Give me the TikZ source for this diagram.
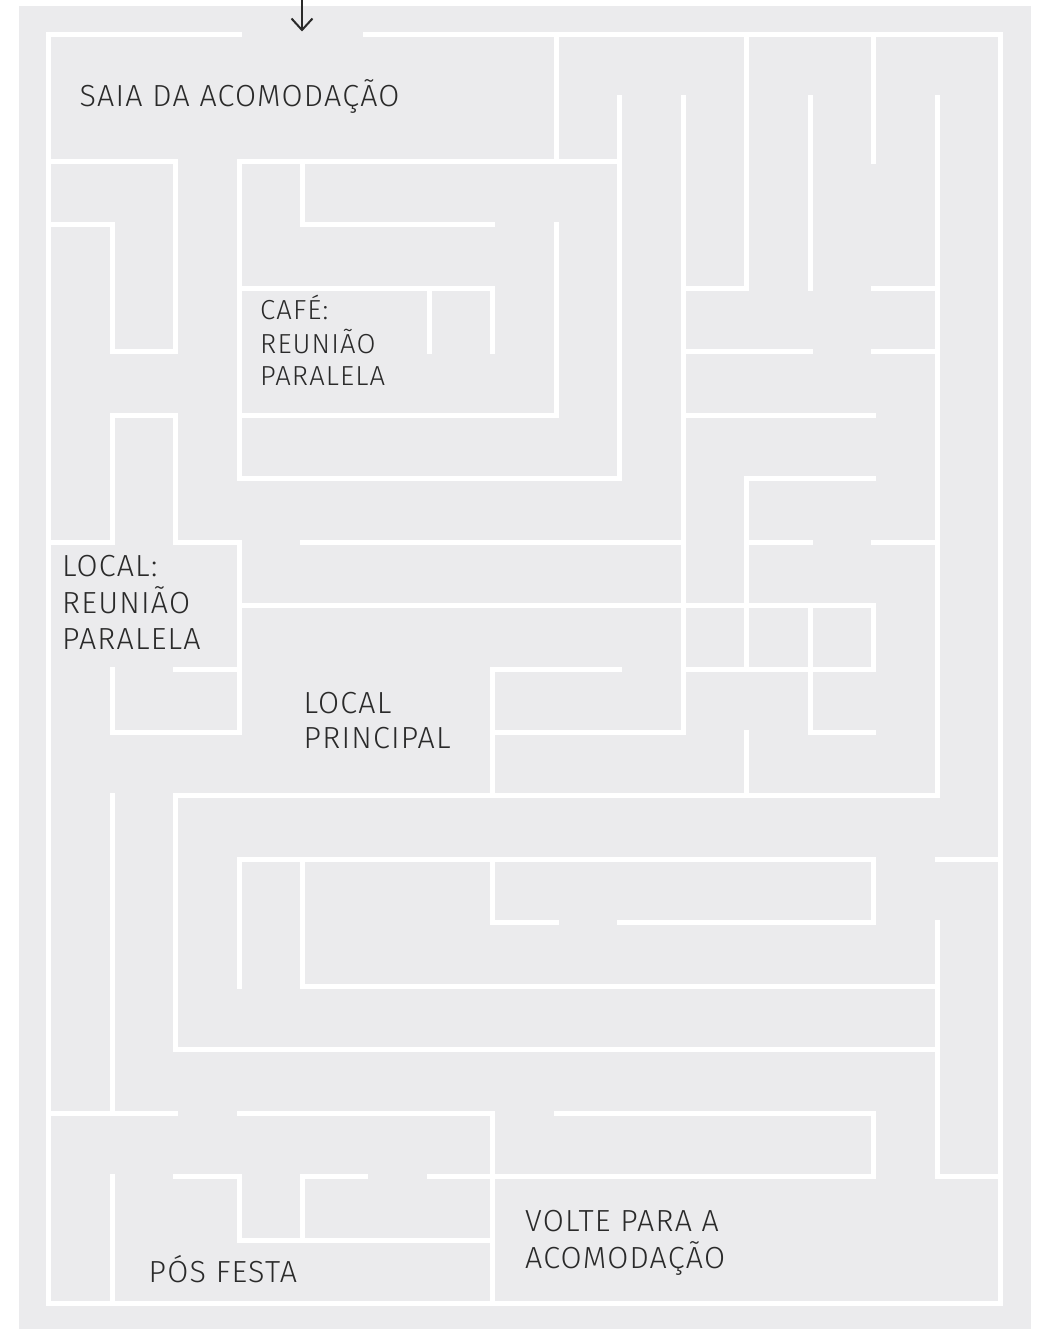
\documentclass[tikz,border=0pt]{standalone}
\usepackage{fontspec}
\setmainfont{Fira Sans Light}[LetterSpace=4]
\usepackage{tikz}
\usetikzlibrary{arrows.meta, positioning}
\definecolor{mazegray}{RGB}{235,235,237}
\definecolor{inkgray}{RGB}{42,42,42}

\begin{document}
\begin{tikzpicture}[x=1pt, y=-1pt,
    wall/.style={draw=white, line width=5pt, line cap=rect},
    place/.style={inner sep=0pt, anchor=base west, text=inkgray, font=\fontsize{30.5}{35.5}\selectfont},
    small place/.style={place, font=\fontsize{27.5}{32}\selectfont}]
\useasboundingbox (0,0) rectangle (1038,1329);
\fill[mazegray] (19,6) rectangle (1031,1329);

% maze walls on a 15 x 20 grid
\begin{scope}[shift={(48.7,34.5)}, x=63.45pt, y=-63.45pt]
% horizontal walls: row/from/to
\foreach \r/\a/\b in {0/0/3, 0/5/15, 2/0/2, 2/3/9, 3/0/1, 3/4/7,
    4/3/7, 4/10/11, 4/13/14, 5/1/2, 5/10/12, 5/13/14,
    6/1/2, 6/3/8, 6/10/13, 7/3/9, 7/11/13,
    8/0/1, 8/2/3, 8/4/10, 8/11/12, 8/13/14, 9/3/13,
    10/2/3, 10/7/9, 10/10/13, 11/1/3, 11/7/10, 11/12/13,
    12/2/14, 13/3/13, 13/14/15, 14/7/8, 14/9/13, 15/4/14, 16/2/14,
    17/0/2, 17/3/7, 17/8/13, 18/2/3, 18/4/5, 18/6/13, 18/14/15,
    19/3/7, 20/0/15}
  \draw[wall] (\a,\r) -- (\b,\r);
% vertical walls: column/from/to
\foreach \c/\a/\b in {0/0/20, 1/3/5, 1/6/8, 1/10/11, 1/12/17, 1/18/20,
    2/2/5, 2/6/8, 2/12/16, 3/2/7, 3/8/11, 3/13/15, 3/18/19,
    4/2/3, 4/13/15, 4/18/19, 6/4/5, 7/4/5, 7/10/12, 7/13/14, 7/17/20,
    8/0/2, 8/3/6, 9/1/7, 10/1/11, 11/0/4, 11/7/10, 11/11/12,
    12/1/4, 12/9/11, 13/0/2, 13/9/10, 13/13/14, 13/17/18,
    14/1/12, 14/14/18, 15/0/20}
  \draw[wall] (\c,\a) -- (\c,\b);
\end{scope}

% entrance
\coordinate (door top) at (302,0);
\coordinate (door) at (302,31.5);
\draw[inkgray, line width=2pt, -{Straight Barb[length=11.5pt, width=21pt]}] (door top) -- (door);

% places
\node[place] (leave) at (79.5,106.5) {SAIA DA ACOMODAÇÃO};
\node[small place] (cafe) at (260,319.3) {\begin{tabular}[t]{@{}l@{}}CAFÉ:\\REUNIÃO\\PARALELA\end{tabular}};
\node[place] (side) at (62,576) {\begin{tabular}[t]{@{}l@{}}LOCAL:\\REUNIÃO\\PARALELA\end{tabular}};
\node[place] (main) at (303.5,713.3) {\begin{tabular}[t]{@{}l@{}}LOCAL\\PRINCIPAL\end{tabular}};
\node[place] (party) at (148.5,1282.3) {PÓS FESTA};
\node[place] (back) at (525,1231) {\begin{tabular}[t]{@{}l@{}}VOLTE PARA A\\ACOMODAÇÃO\end{tabular}};
\end{tikzpicture}
\end{document}
